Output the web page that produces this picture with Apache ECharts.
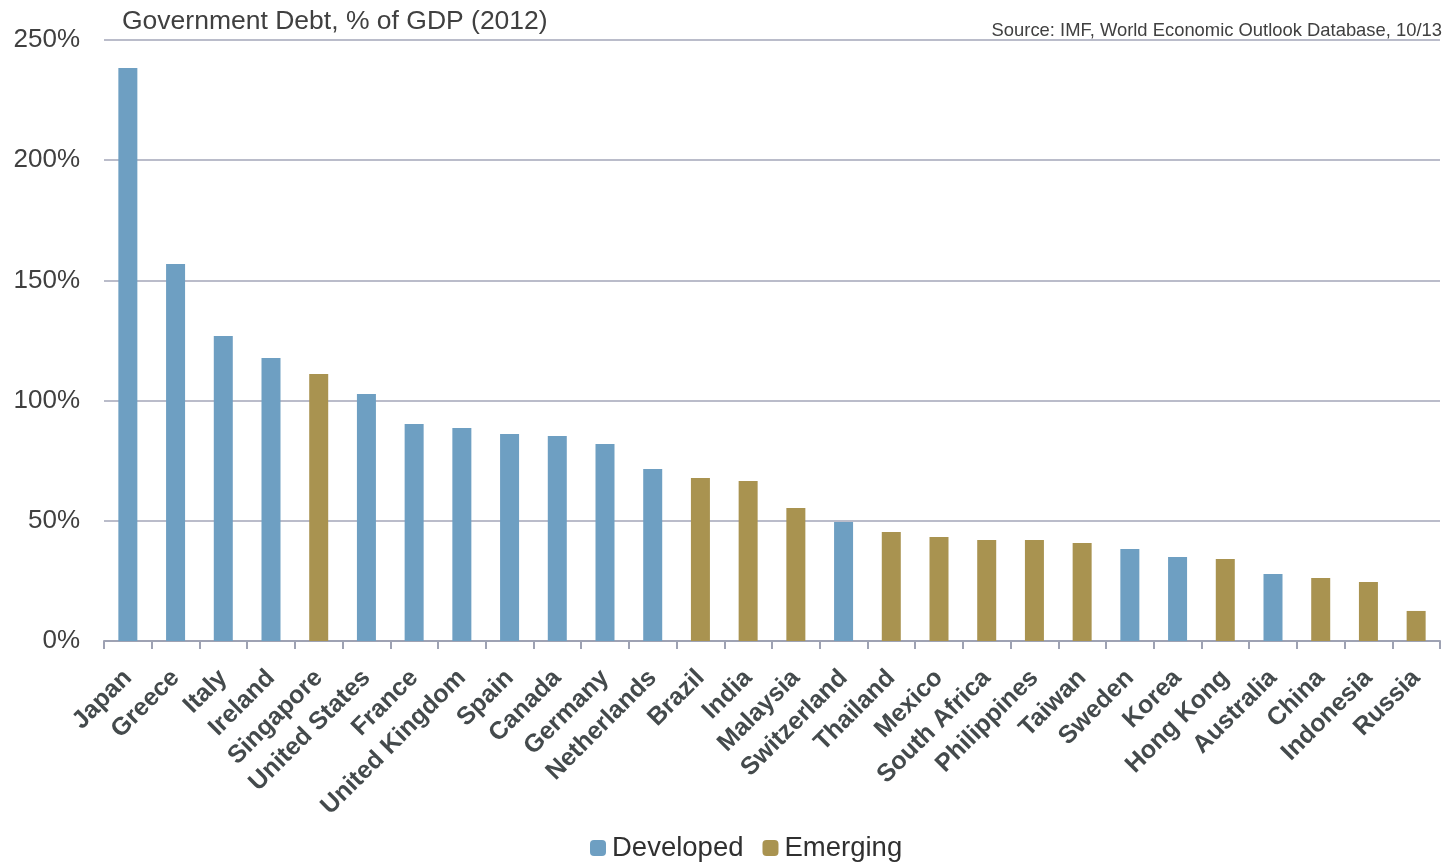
<!DOCTYPE html>
<html>
<head>
<meta charset="utf-8">
<script src="https://cdn.jsdelivr.net/npm/echarts@6/dist/echarts.min.js"></script>
<style>html,body{margin:0;padding:0;background:#fff}#c{width:1450px;height:864px}</style>
</head>
<body>
<div id="c"></div>
<script>
var categories = ['Japan','Greece','Italy','Ireland','Singapore','United States','France','United Kingdom','Spain','Canada','Germany','Netherlands','Brazil','India','Malaysia','Switzerland','Thailand','Mexico','South Africa','Philippines','Taiwan','Sweden','Korea','Hong Kong','Australia','China','Indonesia','Russia'];
var debtValues = [238.4,156.8,126.9,117.7,111.1,102.7,90.3,88.6,86.1,85.3,81.9,71.5,67.8,66.6,55.3,49.5,45.3,43.3,42.0,42.0,40.8,38.3,34.9,34.1,27.9,26.2,24.5,12.5];
var groups = ['D','D','D','D','E','D','D','D','D','D','D','D','E','E','E','D','E','E','E','E','E','D','D','E','D','E','E','E'];
var yTicks = [0,50,100,150,200,250];

var developed = debtValues.map(function(v,i){return groups[i]==='D'?v:'-';});
var emerging = debtValues.map(function(v,i){return groups[i]==='E'?v:'-';});

var chart = echarts.init(document.getElementById('c'));
chart.setOption({
  animation:false,
  backgroundColor:'#fff',
  title:[
    {text:'Government Debt, % of GDP (2012)',left:117,top:3,textStyle:{fontFamily:'Liberation Sans, Arial',fontWeight:'normal',fontSize:26.5,color:'#404040'}},
    {text:'Source: IMF, World Economic Outlook Database, 10/13',right:3,top:17,textStyle:{fontFamily:'Liberation Sans, Arial',fontWeight:'normal',fontSize:18.4,color:'#404040'}}
  ],
  legend:{
    top:829,left:585,itemWidth:16,itemHeight:16,itemGap:19,
    icon:'roundRect',
    textStyle:{fontFamily:'Liberation Sans, Arial',fontSize:27.5,color:'#303030',padding:[0,0,0,1]},
    data:['Developed','Emerging']
  },
  grid:{left:104,right:10,top:40,bottom:223,containLabel:false},
  xAxis:{
    type:'category',data:categories,
    axisLine:{lineStyle:{color:'#9ea2b3',width:2}},
    axisTick:{show:true,length:8,lineStyle:{color:'#9ea2b3',width:2}},
    axisLabel:{rotate:45,interval:0,fontFamily:'Liberation Sans, Arial',fontWeight:'bold',fontSize:25,color:'#444a4c',margin:33}
  },
  yAxis:{
    type:'value',min:0,max:250,interval:50,
    axisLine:{show:false},axisTick:{show:false},
    splitLine:{lineStyle:{color:'#a3a6b8',width:1.5}},
    axisLabel:{formatter:function(v){return yTicks.indexOf(v)>=0?v+'%':'';},fontFamily:'Liberation Sans, Arial',fontSize:26,color:'#404040',margin:24,lineHeight:30,padding:[6,0,0,0]}
  },
  series:[
    {name:'Developed',type:'bar',stack:'s',data:developed,barWidth:19,itemStyle:{color:'#6e9fc2'}},
    {name:'Emerging',type:'bar',stack:'s',data:emerging,barWidth:19,itemStyle:{color:'#a99350'}}
  ]
});
</script>
</body>
</html>
